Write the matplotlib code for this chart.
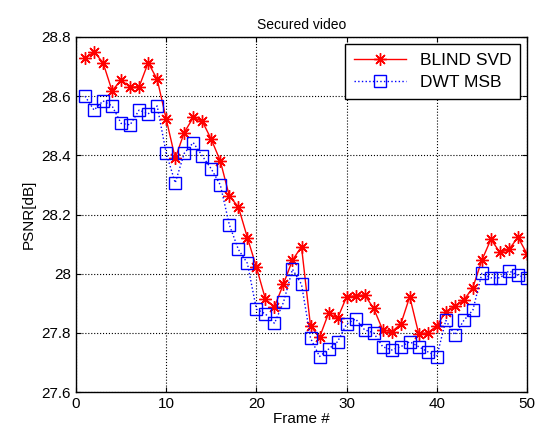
import matplotlib.pyplot as plt
from matplotlib.ticker import FuncFormatter

plt.rcParams['font.family'] = ['Liberation Sans', 'DejaVu Sans']

frames = list(range(1, 51))
blind_svd = [28.728, 28.75, 28.713, 28.618, 28.655, 28.63, 28.632, 28.713, 28.657, 28.523,
             28.39, 28.477, 28.528, 28.515, 28.454, 28.381, 28.262, 28.226, 28.122, 28.022,
             27.914, 27.888, 27.965, 28.046, 28.091, 27.823, 27.785, 27.866, 27.849, 27.922,
             27.925, 27.928, 27.883, 27.81, 27.804, 27.829, 27.922, 27.796, 27.80, 27.823,
             27.872, 27.891, 27.911, 27.953, 28.046, 28.116, 28.072, 28.082, 28.123, 28.067]
dwt_msb = [28.60, 28.553, 28.584, 28.567, 28.508, 28.503, 28.553, 28.54, 28.567, 28.407,
           28.307, 28.407, 28.443, 28.398, 28.354, 28.30, 28.165, 28.082, 28.035, 27.88,
           27.864, 27.832, 27.903, 28.015, 27.964, 27.782, 27.72, 27.745, 27.77, 27.83,
           27.847, 27.81, 27.80, 27.753, 27.742, 27.753, 27.77, 27.753, 27.736, 27.72,
           27.842, 27.793, 27.842, 27.877, 28.001, 27.986, 27.986, 28.009, 27.995, 27.984]

fig = plt.figure(figsize=(5.36, 4.37), dpi=100)
ax = fig.add_axes([76/536, 1 - 392/437, 451/536, 355/437])

# matlab style asterisk marker
ax.plot(frames, blind_svd, color='red', linestyle='-', linewidth=1, marker=(8, 2, 0),
        markersize=9, markeredgewidth=1, label='BLIND SVD')
ax.plot(frames, dwt_msb, color='blue', linestyle=':', linewidth=1, marker='s',
        markersize=8, markerfacecolor='none', markeredgewidth=1, label='DWT MSB')

ax.set_xlim(0, 50)
ax.set_ylim(27.6, 28.8)
ax.set_xticks(range(0, 51, 10))
ax.set_yticks([27.6, 27.8, 28.0, 28.2, 28.4, 28.6, 28.8])
ax.yaxis.set_major_formatter(FuncFormatter(lambda v, p: f'{v:g}'))
ax.grid(True, color='black', linestyle=':', linewidth=0.8)
ax.tick_params(direction='in', labelsize=11, top=True, right=True)
for s in ax.spines.values():
    s.set_linewidth(1)

ax.set_title('Secured video', fontsize=10)
ax.set_xlabel('Frame #', fontsize=11, labelpad=1)
ax.set_ylabel('PSNR[dB]', fontsize=11)

leg = ax.legend(loc='upper right', fontsize=12.5, fancybox=False, framealpha=1,
                edgecolor='black', handlelength=3, borderpad=0.5, labelspacing=0.4,
                borderaxespad=0.4)
leg.get_frame().set_linewidth(1)

fig.savefig('out.png', dpi=100)
